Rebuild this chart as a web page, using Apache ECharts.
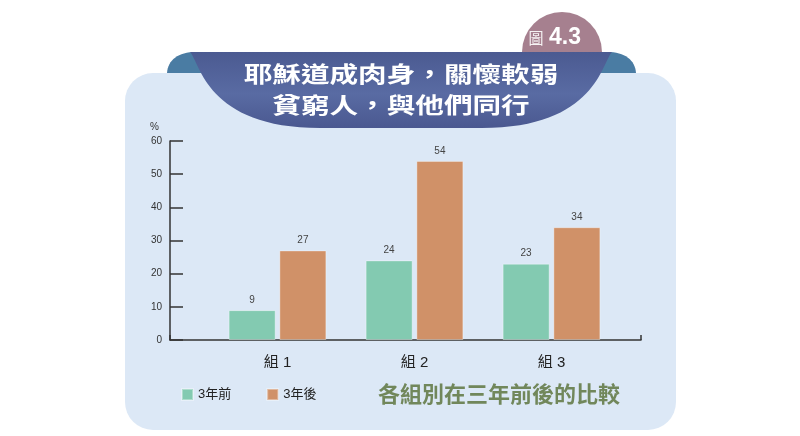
<!DOCTYPE html>
<html>
<head>
<meta charset="utf-8">
<script src="https://cdn.jsdelivr.net/npm/echarts@6/dist/echarts.min.js"></script>
<style>
  html, body { margin: 0; background: #fff; }
  #chart { width: 800px; height: 436px; }
</style>
</head>
<body>
<div id="chart"></div>
<script>
// data
const categories = ['組 1', '組 2', '組 3'];
const seriesNames = ['3年前', '3年後'];
const before = [9, 24, 23];
const after = [27, 54, 34];
const yMin = 0;
const yMax = 60;
const yStep = 10;
const titleLines = ['耶穌道成肉身，關懷軟弱', '貧窮人，與他們同行'];
const badgeWord = '圖';
const badgeNumber = '4.3';
const subtitle = '各組別在三年前後的比較';

const latin = '"Liberation Sans", "Noto Sans CJK TC", sans-serif';
const cjk = '"Noto Sans CJK TC", sans-serif';

// simple shape that draws a list of path commands (for the banner decoration)
echarts.graphic.registerShape('cmdpath', echarts.graphic.extendShape({
  shape: { cmds: [] },
  buildPath(ctx, shape) {
    shape.cmds.forEach(c => {
      if (c[0] === 'M') ctx.moveTo(c[1], c[2]);
      else if (c[0] === 'L') ctx.lineTo(c[1], c[2]);
      else if (c[0] === 'C') ctx.bezierCurveTo(c[1], c[2], c[3], c[4], c[5], c[6]);
      else if (c[0] === 'Z') ctx.closePath();
    });
  }
}));

const chart = echarts.init(document.getElementById('chart'));

const option = {
  animation: false,
  backgroundColor: '#fff',
  textStyle: { fontFamily: latin },
  grid: [
    { left: 170, right: 159, top: 141, bottom: 96 },
    { left: 209, right: 180, top: 141, bottom: 96 }
  ],
  xAxis: [
    {
      gridIndex: 0, type: 'value', min: 0, max: 1, interval: 1,
      axisLine: { show: true, lineStyle: { color: '#333', width: 1.5 } },
      axisTick: { show: true, inside: true, length: 5, lineStyle: { color: '#333', width: 1.5 } },
      axisLabel: { show: false },
      splitLine: { show: false }
    },
    {
      gridIndex: 1, type: 'category', data: categories,
      axisLine: { show: false },
      axisTick: { show: false },
      axisLabel: { fontSize: 15, color: '#222', margin: 15, fontFamily: latin }
    }
  ],
  yAxis: [
    {
      gridIndex: 0, type: 'value', min: yMin, max: yMax, interval: yStep,
      name: '%', nameLocation: 'end', nameGap: 9,
      nameTextStyle: { fontSize: 10, color: '#333', align: 'right', padding: [0, 11, 0, 0] },
      axisLine: { show: true, lineStyle: { color: '#333', width: 1.5 } },
      axisTick: { show: true, inside: true, length: 13, lineStyle: { color: '#333', width: 1.5 } },
      axisLabel: { fontSize: 10, color: '#333', margin: 8 },
      splitLine: { show: false }
    },
    { gridIndex: 1, type: 'value', min: yMin, max: yMax, show: false }
  ],
  legend: {
    data: seriesNames,
    left: 181, top: 388,
    icon: 'rect', itemWidth: 11, itemHeight: 11, itemGap: 35,
    padding: 0,
    textStyle: { fontSize: 13, color: '#222', fontFamily: latin }
  },
  series: [
    {
      name: seriesNames[0], type: 'bar', xAxisIndex: 1, yAxisIndex: 1,
      data: before, barWidth: 47, barGap: '8%',
      itemStyle: { color: '#83cab1', borderColor: 'rgba(255,255,255,0.35)', borderWidth: 1 },
      label: { show: true, position: 'top', distance: 5, fontSize: 10, color: '#444' }
    },
    {
      name: seriesNames[1], type: 'bar', xAxisIndex: 1, yAxisIndex: 1,
      data: after, barWidth: 47,
      itemStyle: { color: '#d09168', borderColor: 'rgba(255,255,255,0.35)', borderWidth: 1 },
      label: { show: true, position: 'top', distance: 5, fontSize: 10, color: '#444' }
    }
  ],
  graphic: [
    // badge circle behind the banner
    { type: 'circle', z: -12, shape: { cx: 562, cy: 52, r: 40 }, style: { fill: '#a6808f' } },
    // curled flaps
    {
      type: 'cmdpath', z: -11,
      shape: { cmds: [['M', 167, 82], ['L', 167, 73], ['C', 168, 60, 178, 52, 196, 52], ['L', 215, 52], ['L', 215, 82], ['Z']] },
      style: { fill: '#4a7ca3' }
    },
    {
      type: 'cmdpath', z: -11,
      shape: { cmds: [['M', 636, 82], ['L', 636, 73], ['C', 635, 60, 625, 52, 607, 52], ['L', 588, 52], ['L', 588, 82], ['Z']] },
      style: { fill: '#4a7ca3' }
    },
    // light panel
    {
      type: 'rect', z: -10,
      shape: { x: 125, y: 73, width: 551, height: 357, r: 28 },
      style: { fill: '#dce8f6' }
    },
    // navy banner
    {
      type: 'cmdpath', z: 10,
      shape: { cmds: [['M', 190, 52], ['L', 612, 52], ['C', 602, 62, 596, 128, 482, 128], ['L', 320, 128], ['C', 206, 128, 200, 62, 190, 52], ['Z']] },
      style: {
        fill: new echarts.graphic.LinearGradient(0, 0, 0, 1, [
          { offset: 0, color: '#4b5a91' },
          { offset: 0.55, color: '#596ba3' },
          { offset: 1, color: '#4a5890' }
        ])
      }
    },
    {
      type: 'text', z: 12, x: 401, y: 74, scaleX: 1.3,
      style: {
        text: titleLines[0], fill: '#fff', font: 'bold 22px ' + cjk,
        textAlign: 'center', textVerticalAlign: 'middle'
      }
    },
    {
      type: 'text', z: 12, x: 401, y: 105, scaleX: 1.3,
      style: {
        text: titleLines[1], fill: '#fff', font: 'bold 22px ' + cjk,
        textAlign: 'center', textVerticalAlign: 'middle'
      }
    },
    {
      type: 'text', z: 12, x: 536, y: 38,
      style: {
        text: badgeWord, fill: 'rgba(255,255,255,0.9)', font: '15px ' + cjk,
        textAlign: 'center', textVerticalAlign: 'middle'
      }
    },
    {
      type: 'text', z: 12, x: 549, y: 38,
      style: {
        text: badgeNumber, fill: '#fff', font: 'bold 23px "Liberation Sans", sans-serif',
        textAlign: 'left', textVerticalAlign: 'middle'
      }
    },
    {
      type: 'text', z: 12, x: 378, y: 394,
      style: {
        text: subtitle, fill: '#71875b', font: 'bold 22px ' + cjk,
        textAlign: 'left', textVerticalAlign: 'middle'
      }
    }
  ]
};

chart.setOption(option);
</script>
</body>
</html>
